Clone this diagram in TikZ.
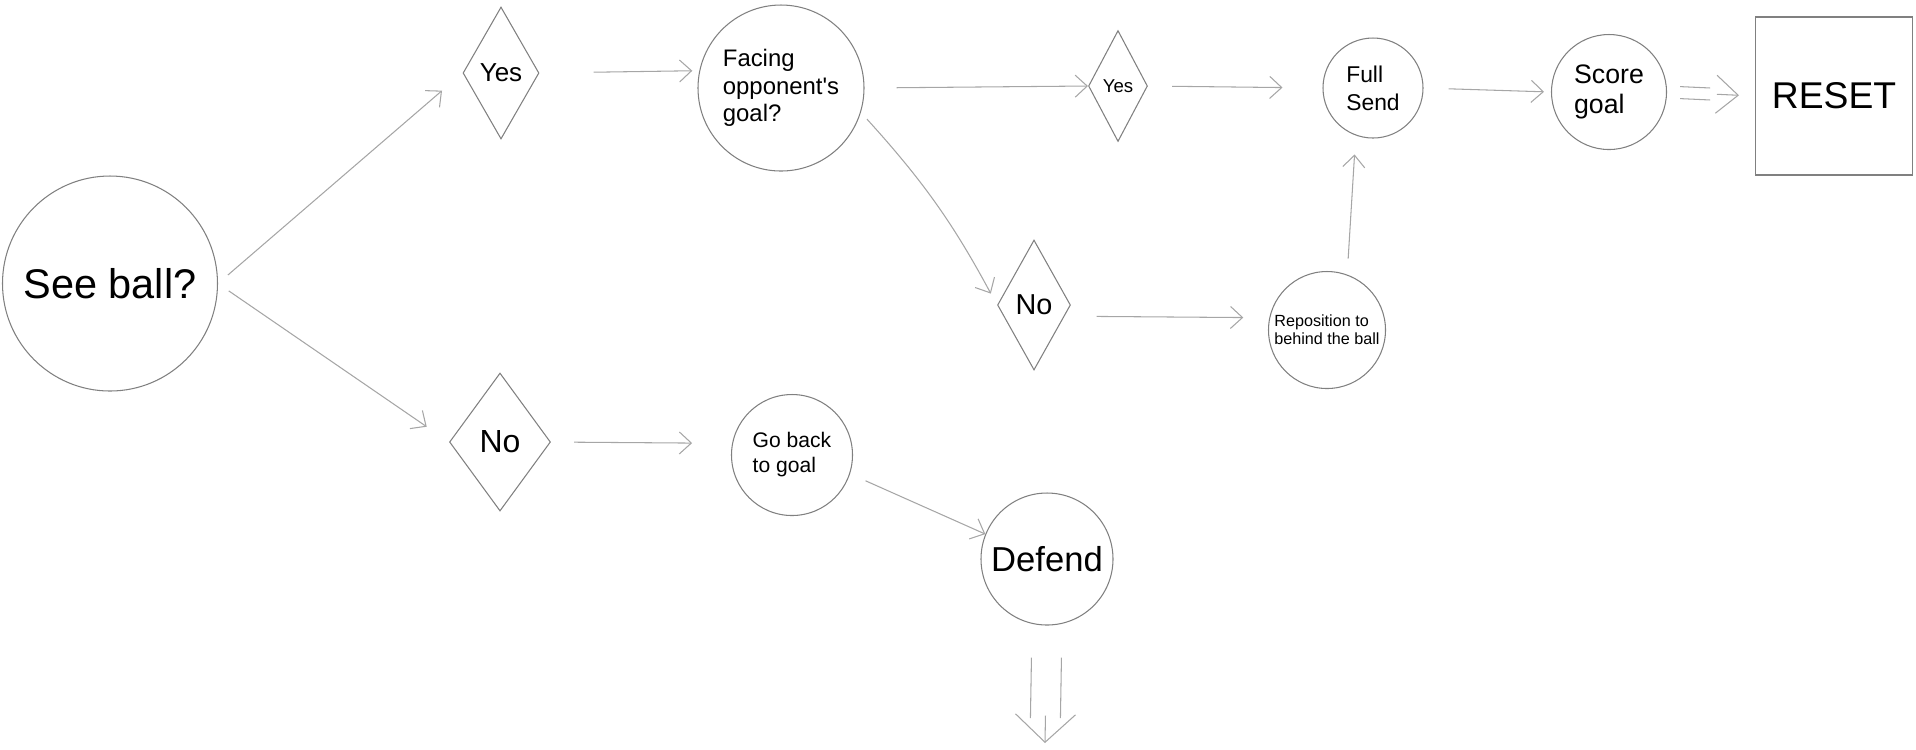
\documentclass[tikz,border=0pt]{standalone}
\usepackage{fontspec}
\setmainfont{Liberation Sans}
\usetikzlibrary{shapes.geometric,arrows.meta}
\newcommand{\fs}[2]{\fontsize{#1}{#2}\selectfont}

\begin{document}
\begin{tikzpicture}[->,>={Straight Barb[length=1.2mm,width=2.2mm]},line width=0.3pt,
  circ node/.style={circle,draw=black!50,inner sep=0pt,align=left},
  dia node/.style={diamond,draw=black!50,inner sep=0pt},
  box node/.style={rectangle,draw=black!50,inner sep=0pt},
  every edge/.style={draw=black!35},
  shaft/.style={draw=black!35,-},
  big tip/.style={draw=black!35,-{Straight Barb[#1]}}]
    \useasboundingbox (0,0) rectangle (19.16,-7.49);

    \node[circ node,minimum size=2.15cm,font=\fs{11.8pt}{14pt}] (see) at (1.10,-2.835) {See ball?};
    \node[dia node,minimum width=0.76cm,minimum height=1.32cm,font=\fs{7.4pt}{9pt}] (yes1) at (5.01,-0.73) {Yes};
    \node[circ node,minimum size=1.66cm,font=\fs{6.8pt}{7.9pt}] (facing) at (7.81,-0.88) {Facing\\opponent\textquotesingle s\\goal?};
    \node[dia node,minimum width=0.59cm,minimum height=1.11cm,font=\fs{5.3pt}{6pt}] (yes2) at (11.18,-0.86) {Yes};
    \node[circ node,minimum size=1.00cm,font=\fs{6.5pt}{8pt}] (send) at (13.73,-0.88) {Full\\Send};
    \node[circ node,minimum size=1.15cm,font=\fs{7.6pt}{8.5pt}] (score) at (16.09,-0.92) {Score\\goal};
    \node[box node,minimum width=1.57cm,minimum height=1.58cm,font=\fs{10.6pt}{12pt}] (reset) at (18.34,-0.96) {RESET};
    \node[dia node,minimum width=0.73cm,minimum height=1.30cm,font=\fs{8.2pt}{10pt}] (no1) at (10.34,-3.05) {No};
    \node[circ node,minimum size=1.17cm,font=\fs{4.6pt}{5.2pt}] (repos) at (13.27,-3.30) {Reposition to\\behind the ball};
    \node[dia node,minimum width=1.01cm,minimum height=1.38cm,font=\fs{9.1pt}{11pt}] (no2) at (5.00,-4.42) {No};
    \node[circ node,minimum size=1.21cm,font=\fs{6pt}{7.1pt}] (back) at (7.92,-4.55) {Go back\\to goal};
    \node[circ node,minimum size=1.32cm,font=\fs{9.85pt}{12pt}] (defend) at (10.47,-5.59) {Defend};
    \coordinate (down) at (10.45,-7.43);

    \path
        (see.east) edge[shorten <=0.13cm,shorten >=0.27cm] (yes1.west)
        (see.east) edge[shorten <=0.13cm,shorten >=0.27cm] (no2.west)
        (yes1.east) edge[shorten <=0.54cm,shorten >=0.07cm] (facing.168)
        (facing.east) edge[shorten <=0.32cm] (yes2.west)
        (facing.-17) edge[bend left=7,shorten <=0.09cm,shorten >=0.13cm] (no1.west)
        (yes2.east) edge[shorten <=0.24cm,shorten >=0.40cm] (send.west)
        (send.east) edge[shorten <=0.25cm,shorten >=0.07cm] (score.west)
        (no1.-20) edge[shorten <=0.32cm,shorten >=0.26cm] (repos.168)
        (repos.70) edge[shorten <=0.16cm,shorten >=0.19cm] (send.250)
        (no2.east) edge[shorten <=0.23cm,shorten >=0.40cm] (back.169)
        (back.-18) edge[shorten <=0.17cm] (defend.158)
        ;

    % double arrows: two shafts, then the open head on its own
    \foreach \s in {-0.06,0.06}
        \draw[shaft,transform canvas={yshift=\s cm},shorten <=0.13cm,shorten >=0.45cm] (score.east) -- (reset.west);
    \draw[big tip={length=0.22cm,width=0.38cm},shorten <=0.50cm,shorten >=0.16cm] (score.east) -- (reset.west);
    \foreach \s in {-0.15,0.15}
        \draw[shaft,transform canvas={xshift=\s cm},shorten <=0.32cm,shorten >=0.25cm] (defend.south) -- (down);
    \draw[big tip={length=0.28cm,width=0.6cm},shorten <=0.90cm] (defend.south) -- (down);
\end{tikzpicture}
\end{document}
